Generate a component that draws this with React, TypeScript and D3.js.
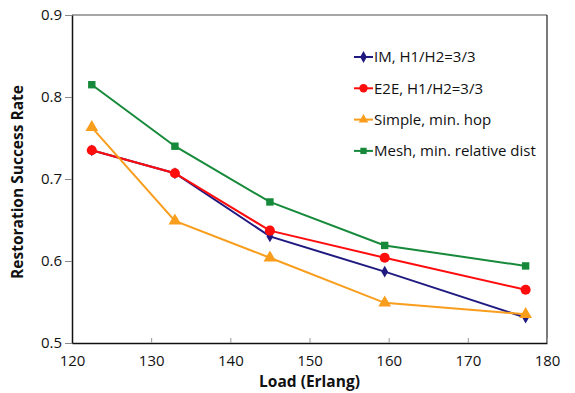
import React, { useEffect, useRef } from "react";
import * as d3 from "d3";

// values
const loads = [122.5, 133, 145, 159.5, 177.3];
const imValues = [0.735, 0.707, 0.630, 0.587, 0.531];
const e2eValues = [0.735, 0.707, 0.637, 0.604, 0.565];
const simpleValues = [0.763, 0.649, 0.604, 0.549, 0.535];
const meshValues = [0.815, 0.740, 0.672, 0.619, 0.594];
const xTicks = [120, 130, 140, 150, 160, 170, 180];
const yTicks = [0.5, 0.6, 0.7, 0.8, 0.9];

const seriesList = [
  { name: "IM, H1/H2=3/3", values: imValues, color: "#201a80", shape: "diamond" },
  { name: "E2E, H1/H2=3/3", values: e2eValues, color: "#ff0d0d", shape: "circle" },
  { name: "Simple, min. hop", values: simpleValues, color: "#f99d1c", shape: "triangle" },
  { name: "Mesh, min. relative dist", values: meshValues, color: "#168a3a", shape: "square" },
];

const symbolFor = (shape: string) => {
  if (shape === "diamond") return d3.symbol(d3.symbolDiamond, 40);
  if (shape === "circle") return d3.symbol(d3.symbolCircle, 80);
  if (shape === "triangle") return d3.symbol(d3.symbolTriangle, 70);
  return d3.symbol(d3.symbolSquare, 55);
};

export default function App() {
  const ref = useRef<SVGSVGElement>(null);

  useEffect(() => {
    const svg = d3.select(ref.current);
    svg.selectAll("*").remove();

    const margin = { top: 15, right: 28, bottom: 50, left: 72 };
    const width = 575 - margin.left - margin.right;
    const height = 393 - margin.top - margin.bottom;
    const font = "'Open Sans', sans-serif";

    const x = d3.scaleLinear().domain([120, 180]).range([0, width]);
    const y = d3.scaleLinear().domain([0.5, 0.9]).range([height, 0]);

    const g = svg.append("g").attr("transform", `translate(${margin.left},${margin.top})`);

    // plot frame
    g.append("line").attr("x1", 0).attr("x2", width).attr("y1", 0).attr("y2", 0)
      .attr("stroke", "#888").attr("stroke-width", 1.5);
    g.append("line").attr("x1", width).attr("x2", width).attr("y1", 0).attr("y2", height)
      .attr("stroke", "#222").attr("stroke-width", 1.2);

    // x axis
    const xAxis = g.append("g").attr("transform", `translate(0,${height})`)
      .call(d3.axisBottom(x).tickValues(xTicks).tickFormat(d3.format("d")).tickSizeInner(-5).tickSizeOuter(0).tickPadding(12));
    xAxis.select(".domain").attr("stroke", "#111").attr("stroke-width", 1.5);
    xAxis.selectAll(".tick line").attr("stroke", "#999");
    xAxis.selectAll("text").attr("font-family", font).attr("font-size", 15).attr("fill", "#111");

    // y axis
    const yAxis = g.append("g")
      .call(d3.axisLeft(y).tickValues(yTicks).tickFormat(d3.format(".1f")).tickSizeInner(7).tickSizeOuter(0).tickPadding(3));
    yAxis.select(".domain").attr("stroke", "#111").attr("stroke-width", 1.5);
    yAxis.selectAll(".tick line").attr("stroke", "#888");
    yAxis.selectAll("text").attr("font-family", font).attr("font-size", 15).attr("fill", "#111");

    // axis titles
    g.append("text").attr("x", width / 2).attr("y", height + 44).attr("text-anchor", "middle")
      .attr("font-family", font).attr("font-weight", "bold").attr("font-size", 15.5).attr("fill", "#111")
      .text("Load (Erlang)");
    g.append("text").attr("transform", `translate(${-49},${height / 2 + 3}) rotate(-90)`).attr("text-anchor", "middle")
      .attr("font-family", font).attr("font-weight", "bold").attr("font-size", 15.5).attr("fill", "#111")
      .text("Restoration Success Rate");

    const line = d3.line<number>().x((d, i) => x(loads[i])).y(d => y(d));

    seriesList.forEach(s => {
      g.append("path").datum(s.values).attr("fill", "none").attr("stroke", s.color)
        .attr("stroke-width", 2).attr("d", line);
      g.selectAll(null).data(s.values).enter().append("path")
        .attr("transform", (d, i) => `translate(${x(loads[i])},${y(d)})`)
        .attr("d", symbolFor(s.shape)).attr("fill", s.color);
    });

    // legend
    const legend = g.append("g").attr("transform", `translate(${354 - margin.left},${57 - margin.top})`);
    seriesList.forEach((s, i) => {
      const row = legend.append("g").attr("transform", `translate(0,${i * 31.3})`);
      row.append("line").attr("x1", 0).attr("x2", 19).attr("stroke", s.color).attr("stroke-width", 2);
      row.append("path").attr("transform", "translate(9.5,0)")
        .attr("d", symbolFor(s.shape).size(s.shape === "circle" ? 55 : 40)).attr("fill", s.color);
      row.append("text").attr("x", 20).attr("dy", "0.35em").attr("font-family", font)
        .attr("font-size", 15).attr("fill", "#111").text(s.name);
    });
  }, []);

  return (
    <svg ref={ref} width={575} height={393}
      style={{ display: "block", position: "absolute", left: 0, top: 0 }} />
  );
}
